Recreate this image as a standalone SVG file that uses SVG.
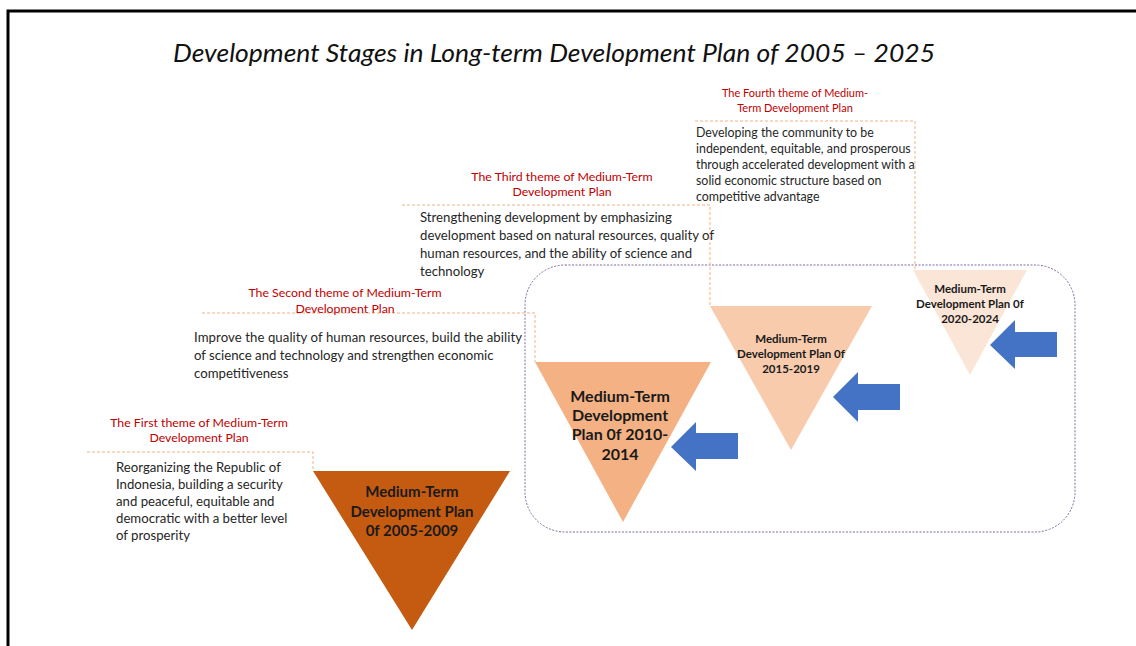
<svg xmlns="http://www.w3.org/2000/svg" width="1136" height="646" viewBox="0 0 1136 646">
  <style>
    .title { font-family: Lato, "Open Sans", sans-serif; font-style: italic; font-weight: 400; font-size: 25px; fill: #111; }
    .theme { font-family: Lato, "Open Sans", sans-serif; font-size: 12.3px; fill: #C00000; text-anchor: middle; }
    .theme-sm { font-family: Lato, "Open Sans", sans-serif; font-size: 11px; fill: #C00000; text-anchor: middle; }
    .body { font-family: Lato, "Open Sans", sans-serif; font-size: 13.2px; fill: #262626; }
    .body-sm { font-family: Lato, "Open Sans", sans-serif; font-size: 12.4px; fill: #262626; }
    .tri-lbl { font-family: Lato, "Open Sans", sans-serif; font-weight: bold; fill: #1a1a1a; text-anchor: middle; }
    .lead { fill: none; stroke: #F4B183; stroke-width: 1; stroke-dasharray: 3 2; }
    .arrow { fill: #4472C4; }
  </style>

  <rect width="1136" height="646" fill="#fff"/>

  <!-- outer frame -->
  <path d="M8,646 V11 H1136" fill="none" stroke="#000" stroke-width="3"/>

  <text class="title" x="173" y="62" textLength="762" lengthAdjust="spacingAndGlyphs">Development Stages in Long-term Development Plan of 2005 – 2025</text>

  <!-- dashed group frame for later stages -->
  <rect id="later-stages" x="525" y="265" width="550" height="267" rx="40" ry="40" fill="none" stroke="#7F6A9E" stroke-width="1" stroke-dasharray="2 1.5"/>

  <!-- connectors: dashed leaders from theme boxes to stage triangles, and progress arrows -->
  <g id="connectors">
    <path class="lead" d="M87,452 H313 V470"/>
    <path class="lead" d="M202,313 H535 V362"/>
    <path class="lead" d="M402,205 H710 V306"/>
    <path class="lead" d="M695,121 H915 V270"/>
    <polygon class="arrow" points="671,447 696,422 696,433 738,433 738,459 696,459 696,471"/>
    <polygon class="arrow" points="833,397 858,372 858,384 900,384 900,410 858,410 858,422"/>
    <polygon class="arrow" points="990,345 1015,320 1015,332 1057,332 1057,357 1015,357 1015,369"/>
  </g>

  <g id="theme1">
    <text class="theme" x="199" y="427">The First theme of Medium-Term</text>
    <text class="theme" x="199" y="442">Development Plan</text>
    <text class="body" x="116" y="472">Reorganizing the Republic of</text>
    <text class="body" x="116" y="489">Indonesia, building a security</text>
    <text class="body" x="116" y="506">and peaceful, equitable and</text>
    <text class="body" x="116" y="523">democratic with a better level</text>
    <text class="body" x="116" y="540">of prosperity</text>
  </g>

  <g id="theme2">
    <text class="theme" x="345" y="297">The Second theme of Medium-Term</text>
    <text class="theme" x="345" y="313">Development Plan</text>
    <text class="body" x="194" y="342" textLength="328" lengthAdjust="spacing">Improve the quality of human resources, build the ability</text>
    <text class="body" x="194" y="360">of science and technology and strengthen economic</text>
    <text class="body" x="194" y="378">competitiveness</text>
  </g>

  <g id="theme3">
    <text class="theme" x="562" y="181">The Third theme of Medium-Term</text>
    <text class="theme" x="562" y="196">Development Plan</text>
    <text class="body" x="420" y="222">Strengthening development by emphasizing</text>
    <text class="body" x="420" y="240">development based on natural resources, quality of</text>
    <text class="body" x="420" y="258">human resources, and the ability of science and</text>
    <text class="body" x="420" y="276">technology</text>
  </g>

  <g id="theme4">
    <text class="theme-sm" x="795" y="97">The Fourth theme of Medium-</text>
    <text class="theme-sm" x="795" y="112">Term Development Plan</text>
    <text class="body-sm" x="696" y="137">Developing the community to be</text>
    <text class="body-sm" x="696" y="153">independent, equitable, and prosperous</text>
    <text class="body-sm" x="696" y="169">through accelerated development with a</text>
    <text class="body-sm" x="696" y="185">solid economic structure based on</text>
    <text class="body-sm" x="696" y="201">competitive advantage</text>
  </g>

  <g id="stage1">
    <polygon points="313,471 510,471 412,630" fill="#C55A11"/>
    <text class="tri-lbl" font-size="15" x="412" y="497">Medium-Term</text>
    <text class="tri-lbl" font-size="15" x="412" y="517">Development Plan</text>
    <text class="tri-lbl" font-size="15" x="412" y="536">0f 2005-2009</text>
  </g>

  <g id="stage2">
    <polygon points="535,362 711,362 623,522" fill="#F4B183"/>
    <text class="tri-lbl" font-size="16" x="620" y="402">Medium-Term</text>
    <text class="tri-lbl" font-size="16" x="620" y="421">Development</text>
    <text class="tri-lbl" font-size="16" x="620" y="440">Plan 0f 2010-</text>
    <text class="tri-lbl" font-size="16" x="620" y="460">2014</text>
  </g>

  <g id="stage3">
    <polygon points="710,306 872,306 791,450" fill="#F8CBAD"/>
    <text class="tri-lbl" font-size="11.5" x="791" y="343">Medium-Term</text>
    <text class="tri-lbl" font-size="11.5" x="791" y="358">Development Plan 0f</text>
    <text class="tri-lbl" font-size="11.5" x="791" y="373">2015-2019</text>
  </g>

  <g id="stage4">
    <polygon points="913,270 1027,270 970,375" fill="#FBE5D6"/>
    <text class="tri-lbl" font-size="11.5" x="970" y="293">Medium-Term</text>
    <text class="tri-lbl" font-size="11.5" x="970" y="308">Development Plan 0f</text>
    <text class="tri-lbl" font-size="11.5" x="970" y="323">2020-2024</text>
  </g>
</svg>
